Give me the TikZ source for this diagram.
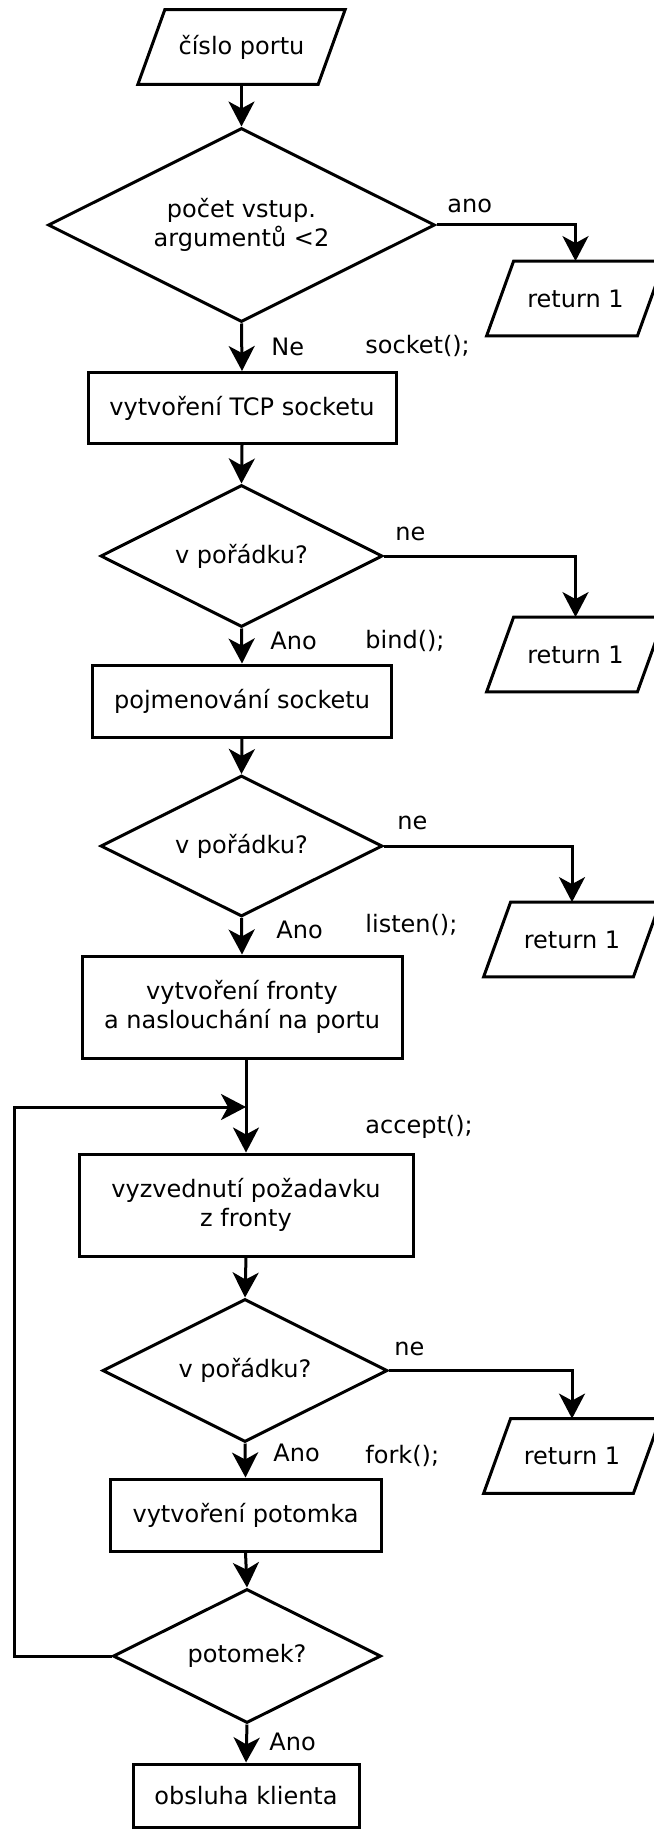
\documentclass[tikz,border=0pt]{standalone}
\usepackage{fontspec}
\setmainfont{DejaVu Sans}
\usetikzlibrary{shapes.geometric,arrows.meta,calc}

\tikzset{
  every node/.style={font=\fontsize{12}{14.5}\selectfont},
  proc/.style={draw, rectangle, line width=1.5pt, inner sep=0pt, align=center},
  dec/.style={draw, diamond, aspect=2, line width=1.5pt, inner sep=0pt, align=center},
  io/.style={rectangle, inner sep=0pt, minimum height=37pt},
  ioline/.style={line width=1.5pt, line join=miter},
  lbl/.style={anchor=west, inner sep=0pt},
  arr/.style={-{Stealth[length=12.5pt,width=13pt,inset=3.5pt]}, line width=1.5pt},
}

% slanted input/output box drawn around a named node
\newcommand\slantbox[1]{%
  \draw[ioline] ($(#1.south west)+(-13.5,0)$) -- ($(#1.south east)+(-13.5,0)$)
    -- ($(#1.north east)+(13.5,0)$) -- ($(#1.north west)+(13.5,0)$) -- cycle;}

\begin{document}
\begin{tikzpicture}[x=0.5pt, y=-0.5pt]
  \useasboundingbox (0,0) rectangle (653,1829);

  % main column
  \node[io, minimum width=89.75pt] (in) at (241.5,47) {číslo portu};
  \node[dec, minimum width=193.5pt, minimum height=97pt] (d1) at (241.5,225)
        {počet vstup.\\argumentů <2};
  \node[proc, minimum width=154pt, minimum height=35.5pt] (b1) at (242,408)
        {vytvoření TCP socketu};
  \node[dec, minimum width=141pt, minimum height=71pt] (d2) at (241.5,556) {v pořádku?};
  \node[proc, minimum width=149.5pt, minimum height=36pt] (b2) at (242,701)
        {pojmenování socketu};
  \node[dec, minimum width=141pt, minimum height=70.5pt] (d3) at (241.5,846) {v pořádku?};
  \node[proc, minimum width=160pt, minimum height=51pt] (b3) at (242,1007)
        {vytvoření fronty\\a naslouchání na portu};
  \node[proc, minimum width=167pt, minimum height=51pt] (b4) at (246,1205)
        {vyzvednutí požadavku\\z fronty};
  \node[dec, minimum width=142.5pt, minimum height=71.5pt] (d4) at (245,1370.5) {v pořádku?};
  \node[proc, minimum width=135.5pt, minimum height=36pt] (b5) at (245.5,1515)
        {vytvoření potomka};
  \node[dec, minimum width=134pt, minimum height=67pt] (d5) at (247,1656) {potomek?};
  \node[proc, minimum width=113pt, minimum height=31.5pt] (b6) at (246,1795.5)
        {obsluha klienta};

  % error exits
  \node[io, minimum width=75pt] (r1) at (575.5,298.5) {return 1};
  \node[io, minimum width=75pt] (r2) at (575.5,654.5) {return 1};
  \node[io, minimum width=74.5pt] (r3) at (572,939.5) {return 1};
  \node[io, minimum width=74.5pt] (r4) at (572,1456) {return 1};
  \slantbox{in}
  \slantbox{r1}
  \slantbox{r2}
  \slantbox{r3}
  \slantbox{r4}

  % branch labels and system calls
  \node[lbl] (l1) at (447,206) {ano};
  \node[lbl] (l2) at (271,347) {Ne};
  \node[lbl] (c1) at (365,346) {socket();};
  \node[lbl] (l3) at (395,534) {ne};
  \node[lbl] (l4) at (270,641) {Ano};
  \node[lbl] (c2) at (365,641) {bind();};
  \node[lbl] (l5) at (397,823) {ne};
  \node[lbl] (l6) at (276,930) {Ano};
  \node[lbl] (c3) at (365,925) {listen();};
  \node[lbl] (c4) at (365,1127) {accept();};
  \node[lbl] (l7) at (394,1349) {ne};
  \node[lbl] (l8) at (273,1453) {Ano};
  \node[lbl] (c5) at (365,1456) {fork();};
  \node[lbl] (l9) at (269,1742) {Ano};

  % loop helpers
  \coordinate (loopy) at (0,1107);
  \coordinate (loopx) at (14,1107);
  \coordinate (merge) at (b4.north |- loopy);

  % connectors
  \draw[arr] (in.south) -- (d1.north);
  \draw[arr] (d1.east) -| (r1.north);
  \draw[arr] (d1.south) -- (b1.north);
  \draw[arr] (b1.south) -- (d2.north);
  \draw[arr] (d2.east) -| (r2.north);
  \draw[arr] (d2.south) -- (b2.north);
  \draw[arr] (b2.south) -- (d3.north);
  \draw[arr] (d3.east) -| (r3.north);
  \draw[arr] (d3.south) -- (b3.north);
  \draw[arr] (b3.south -| b4.north) -- (b4.north);
  \draw[arr] (d5.west) -| (loopx) -- (merge);
  \draw[arr] (b4.south) -- (d4.north);
  \draw[arr] (d4.east) -| (r4.north);
  \draw[arr] (d4.south) -- (b5.north);
  \draw[arr] (b5.south) -- (d5.north);
  \draw[arr] (d5.south) -- (b6.north);
\end{tikzpicture}
\end{document}
